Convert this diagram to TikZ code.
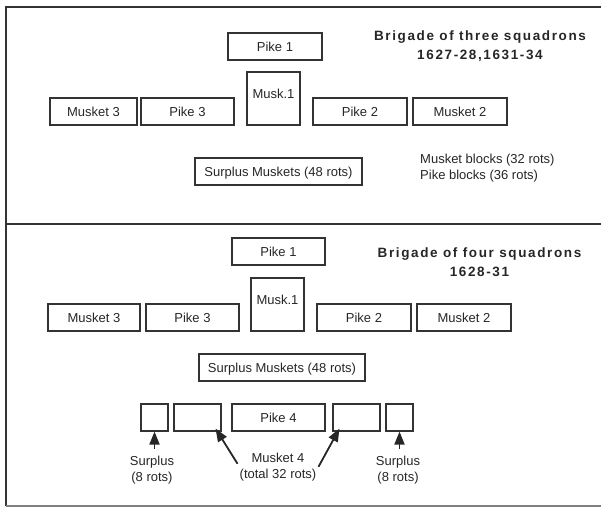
\documentclass[tikz,border=0pt]{standalone}
\usepackage{fontspec}
\setmainfont{Liberation Sans}
\newfontfamily\spaced[LetterSpace=12]{Liberation Sans}
\usetikzlibrary{arrows.meta,positioning,calc}

\begin{document}
\begin{tikzpicture}[
    x=1pt, y=-1pt,
    blk/.style={draw=black!80, line width=1.1pt, minimum height=27pt,
                minimum width=94pt, inner sep=0pt, text=black!85,
                text height=9.5pt, text depth=0pt,
                font=\fontsize{13}{15}\selectfont},
    sq/.style={blk, minimum width=53pt, minimum height=53pt,
               text height=9pt, text depth=9pt},
    lbl/.style={align=center, text=black!85, inner sep=0pt,
                font=\fontsize{13}{16}\selectfont},
    ttl/.style={align=center, text=black!85, inner sep=0pt,
                font=\fontsize{13.5}{19}\selectfont\spaced\bfseries},
    arr/.style={-{Triangle[length=13pt,width=10pt]}, line width=1.8pt, black!85},
    frame/.style={line width=1.1pt, black!80}
  ]
    \useasboundingbox (0,0) rectangle (601,507);
    \draw[frame] (6,506) -- (6,7) -- (601,7);
    \draw[frame] (6,224) -- (601,224);
    \draw[frame, black!50] (6,506) -- (601,506);

    % three squadrons
    \node[blk] (tp1) at (275, 46.5) {Pike 1};
    \node[sq] (tm1) at (273.5, 98.5) {Musk.1};
    \node[blk, minimum width=87pt] (tm3) at (93.5, 111.5) {Musket 3};
    \node[blk, minimum width=93pt] (tp3) at (187.5, 111.5) {Pike 3};
    \node[blk] (tp2) at (360, 111.5) {Pike 2};
    \node[blk] (tm2) at (460, 111.5) {Musket 2};
    \node[blk, minimum width=167pt] (tsm) at (278.5, 171.5) {Surplus Muskets (48 rots)};
    \node[lbl, align=left, anchor=west] (tnote) at (420, 168)
        {Musket blocks (32 rots)\\Pike blocks (36 rots)};
    \node[ttl] (tttl) at (480, 46) {Brigade of three squadrons\\1627-28,1631-34};

    % four squadrons
    \node[blk, minimum width=93pt] (fp1) at (278.5, 251.5) {Pike 1};
    \node[sq] (fm1) at (277.5, 304.5) {Musk.1};
    \node[blk, minimum width=92pt] (fm3) at (94, 317.5) {Musket 3};
    \node[blk, minimum width=93pt] (fp3) at (192.5, 317.5) {Pike 3};
    \node[blk] (fp2) at (364, 317.5) {Pike 2};
    \node[blk] (fm2) at (464, 317.5) {Musket 2};
    \node[blk, minimum width=166pt] (fsm) at (282, 367.5) {Surplus Muskets (48 rots)};
    \node[ttl] (fttl) at (479.5, 262) {Brigade of four squadrons\\1628-31};

    \node[blk, minimum width=27pt] (b1) at (154.5, 417.5) {};
    \node[blk, minimum width=47pt] (b2) at (197.5, 417.5) {};
    \node[blk, minimum width=93pt] (fp4) at (278.5, 417.5) {Pike 4};
    \node[blk, minimum width=47pt] (b4) at (356.5, 417.5) {};
    \node[blk, minimum width=27pt] (b5) at (399.5, 417.5) {};

    \node[lbl] (sl) at (152, 470) {Surplus\\(8 rots)};
    \node[lbl] (m4) at (278, 467) {Musket 4\\(total 32 rots)};
    \node[lbl] (sr) at (398, 470) {Surplus\\(8 rots)};

    \draw[arr, shorten <=7pt] (sl.north -| b1.south) -- (b1.south);
    \draw[arr, shorten <=7pt] (sr.north -| b5.south) -- (b5.south);
    \draw[arr] ([xshift=-2pt,yshift=-11pt]m4.north west) -- ([xshift=-6pt,yshift=3pt]b2.south east);
    \draw[arr] ([xshift=2pt,yshift=-14pt]m4.north east) -- ([xshift=7pt,yshift=3pt]b4.south west);
  \end{tikzpicture}
\end{document}
